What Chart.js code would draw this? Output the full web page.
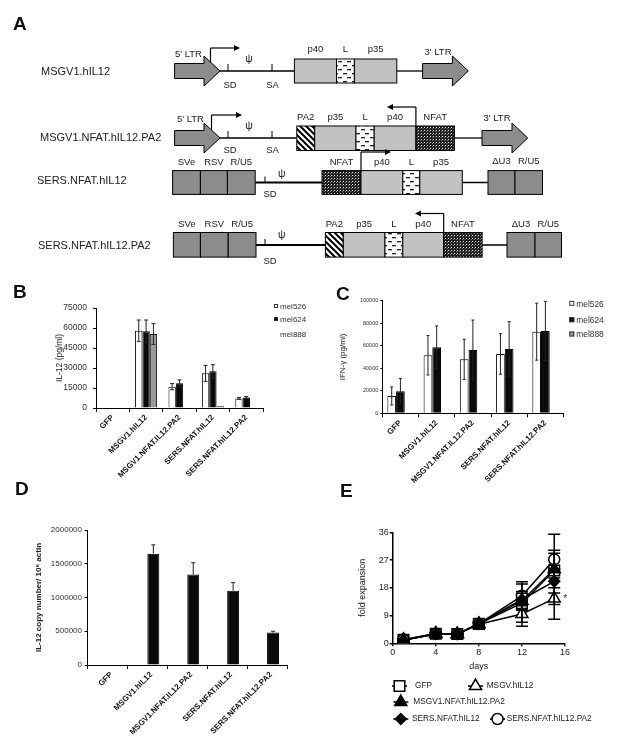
<!DOCTYPE html>
<html>
<head>
<meta charset="utf-8">
<script src="https://cdn.jsdelivr.net/npm/chart.js@4.4.1/dist/chart.umd.min.js"></script>
<style>
  body { margin: 0; background: #fff; }
  #page { position: relative; width: 619px; height: 750px; overflow: hidden; }
  canvas { position: absolute; }
</style>
</head>
<body>
<div id="page">
  <canvas id="bg" width="619" height="750" style="left:0;top:0"></canvas>
  <canvas id="chartB" width="310" height="215" style="left:0;top:290px"></canvas>
  <canvas id="chartC" width="309" height="215" style="left:310px;top:290px"></canvas>
  <canvas id="chartD" width="310" height="250" style="left:0;top:500px"></canvas>
  <canvas id="chartE" width="309" height="230" style="left:310px;top:520px"></canvas>
</div>
<script>
// ---- data ----
const categories = ['GFP', 'MSGV1.hIL12', 'MSGV1.NFAT.IL12.PA2', 'SERS.NFAT.hIL12', 'SERS.NFAT.hIL12.PA2'];
const cellLines = ['mel526', 'mel624', 'mel888'];

// B: IL-12 (pg/ml)
const il12Mel526 = [0, 58000, 16000, 26000, 7200];
const il12Mel624 = [0, 57500, 18600, 27500, 7900];
const il12Mel888 = [0, 55500, 300, 1300, 0];
const il12Mel526Err = [0, 8000, 2300, 6000, 700];
const il12Mel624Err = [0, 8500, 2500, 5000, 700];
const il12Mel888Err = [0, 7800, 0, 0, 0];
const il12Ticks = [0, 15000, 30000, 45000, 60000, 75000];

// C: IFN-gamma (pg/ml)
const ifnMel526 = [15400, 51500, 47900, 52700, 72500];
const ifnMel624 = [19500, 58600, 56200, 57100, 73100];
const ifnMel888 = [500, 800, 300, 300, 300];
const ifnMel526Err = [8000, 17500, 17800, 18000, 25300];
const ifnMel624Err = [11500, 19000, 26600, 24300, 26300];
const ifnTicks = [0, 20000, 40000, 60000, 80000, 100000];

// D: IL-12 copy number / 10^6 actin
const copyCtrl = [0, 0, 0, 0, 0];
const copyNumber = [0, 1650000, 1340000, 1100000, 480000];
const copyNumberErr = [0, 130000, 175000, 120000, 20000];
const copyTicks = [0, 500000, 1000000, 1500000, 2000000];

// E: fold expansion
const expansionSeries = ['GFP', 'MSGV.hIL12', 'MSGV1.NFAT.hIL12.PA2', 'SERS.NFAT.hIL12', 'SERS.NFAT.hIL12.PA2'];
const days = [1, 4, 6, 8, 12, 15];
const expGFP     = [1.1, 3.1, 3.0, 6.3, 13.0, 23.6];
const expMSGV    = [1.1, 3.0, 2.9, 6.2, 9.5, 14.5];
const expMSGVPA2 = [1.1, 3.2, 3.0, 6.3, 13.8, 24.0];
const expSERS    = [1.0, 3.0, 3.0, 6.4, 14.2, 20.1];
const expSERSPA2 = [1.2, 3.1, 3.0, 6.3, 15.4, 27.2];
const errGFP     = [0.3, 0.4, 0.4, 0.6, 6.2, 5.6];
const errMSGV    = [0.3, 0.4, 0.4, 0.6, 4.0, 6.7];
const errMSGVPA2 = [0.3, 0.4, 0.4, 0.6, 3.0, 11.4];
const errSERS    = [0.3, 0.4, 0.4, 0.6, 2.0, 3.8];
const errSERSPA2 = [0.3, 0.4, 0.4, 0.6, 4.6, 3.0];
const dayTicks = [0, 4, 8, 12, 16];
const foldTicks = [0, 9, 18, 27, 36];

// ---- defaults ----
const FONT = "'Liberation Sans', Arial, Helvetica, sans-serif";
Chart.defaults.font.family = FONT;
Chart.defaults.color = '#222';
Chart.defaults.animation = false;
Chart.defaults.plugins.legend.display = false;
Chart.defaults.plugins.tooltip.enabled = false;

const DARK = '#8c8c8c', LIGHT = '#c2c2c2';

// error bars drawn from the dataset's own errors array
const errorBarPlugin = {
  id: 'errorBars',
  afterDatasetsDraw(chart, args, opts) {
    const ctx = chart.ctx, ys = chart.scales.y;
    ctx.save();
    ctx.strokeStyle = opts.color || '#222';
    ctx.lineWidth = opts.lineWidth || 1;
    chart.data.datasets.forEach((ds, di) => {
      if (!ds.errors) return;
      chart.getDatasetMeta(di).data.forEach((el, i) => {
        const d = ds.data[i];
        const v = (d && typeof d === 'object') ? d.y : d;
        const e = ds.errors[i];
        if (v == null || !e) return;
        const x = el.x, cw = opts.capWidth / 2;
        const top = ys.getPixelForValue(v + e);
        const bot = opts.upOnly ? ys.getPixelForValue(v) : ys.getPixelForValue(Math.max(0, v - e));
        ctx.beginPath();
        ctx.moveTo(x, top); ctx.lineTo(x, bot);
        ctx.moveTo(x - cw, top); ctx.lineTo(x + cw, top);
        if (!opts.upOnly) { ctx.moveTo(x - cw, bot); ctx.lineTo(x + cw, bot); }
        ctx.stroke();
      });
    });
    ctx.restore();
  }
};

// small square legend for B and C
const boxLegendPlugin = {
  id: 'boxLegend',
  afterDraw(chart, args, opts) {
    if (!opts || !opts.ys) return;
    const ctx = chart.ctx;
    ctx.save();
    ctx.font = opts.size + 'px ' + FONT;
    ctx.textBaseline = 'middle';
    ctx.textAlign = 'left';
    chart.data.datasets.forEach((ds, i) => {
      const y = opts.ys[i];
      if (opts.boxes[i]) {
        ctx.fillStyle = ds.backgroundColor;
        ctx.strokeStyle = '#333';
        ctx.lineWidth = 1;
        ctx.fillRect(opts.x, y - opts.box / 2 - 1, opts.box, opts.box);
        ctx.strokeRect(opts.x + 0.5, y - opts.box / 2 - 0.5, opts.box - 1, opts.box - 1);
      }
      ctx.fillStyle = '#333';
      ctx.fillText(ds.label, opts.x + opts.box + 2, y);
    });
    ctx.restore();
  }
};

function barChart(id, cfg) {
  return new Chart(document.getElementById(id), {
    type: 'bar',
    data: { labels: categories, datasets: cfg.datasets },
    options: {
      responsive: false,
      layout: { padding: cfg.padding },
      scales: {
        x: {
          grid: { display: true, drawOnChartArea: false, tickLength: 4, color: '#000', lineWidth: 1 },
          border: { color: '#000', width: 1 },
          ticks: { autoSkip: false, minRotation: 45, maxRotation: 45, padding: 1, labelOffset: cfg.labelOffset || 0,
                   font: { size: 8, weight: 'bold' }, color: '#111' },
          afterFit: s => { s.height = cfg.xHeight; }
        },
        y: {
          min: 0, max: cfg.ticks[cfg.ticks.length - 1],
          afterBuildTicks: s => { s.ticks = cfg.ticks.map(v => ({ value: v })); },
          grid: { drawOnChartArea: false, tickLength: cfg.tickLen, color: '#000' },
          border: { color: '#000', width: 1 },
          ticks: { padding: cfg.tickPad, font: { size: cfg.tickSize }, color: '#333', callback: v => String(v) },
          title: { display: true, text: cfg.yTitle, color: '#222',
                   font: { size: cfg.titleSize, weight: cfg.titleWeight || 'normal' },
                   padding: { top: cfg.titlePad, bottom: 0 } },
          afterFit: s => { s.width = cfg.yWidth; }
        }
      },
      plugins: {
        errorBars: { capWidth: cfg.cap, upOnly: !!cfg.upOnly, color: '#222' },
        boxLegend: cfg.legend || {}
      }
    },
    plugins: [errorBarPlugin, boxLegendPlugin]
  });
}

function barSet(label, data, errors, fill, pct) {
  return { label, data, errors, backgroundColor: fill, borderColor: '#000', borderWidth: 1,
           categoryPercentage: pct, barPercentage: 1 };
}

// ---- B ----
barChart('chartB', {
  datasets: [
    barSet(cellLines[0], il12Mel526, il12Mel526Err, '#ffffff', 0.66),
    barSet(cellLines[1], il12Mel624, il12Mel624Err, '#0a0a0a', 0.66),
    barSet(cellLines[2], il12Mel888, il12Mel888Err, '#9a9a9a', 0.66)
  ],
  ticks: il12Ticks, yTitle: 'IL-12 (pg/ml)', titleSize: 8.5, titlePad: 54.9,
  padding: { left: 0, top: 18, right: 47, bottom: 0 }, yWidth: 96, xHeight: 97,
  tickLen: 3, tickPad: 6, tickSize: 8.5, cap: 4,
  legend: { x: 274, ys: [17, 30, 45], boxes: [true, true, false], box: 4, size: 8 }
});

// ---- C ----
barChart('chartC', {
  datasets: [
    barSet(cellLines[0], ifnMel526, ifnMel526Err, '#ffffff', 0.72),
    barSet(cellLines[1], ifnMel624, ifnMel624Err, '#0a0a0a', 0.72),
    barSet(cellLines[2], ifnMel888, null, '#999999', 0.72)
  ],
  ticks: ifnTicks, yTitle: 'IFN-\u03b3 (pg/ml)', titleSize: 8, titlePad: 28.2,
  padding: { left: 0, top: 10.7, right: 55.5, bottom: 0 }, yWidth: 72.3, xHeight: 91.7,
  tickLen: 2, tickPad: 2, tickSize: 5.5, cap: 3,
  legend: { x: 259.3, ys: [14.3, 30.7, 45], boxes: [true, true, true], box: 5, size: 8.4 }
});

// ---- D ----
barChart('chartD', {
  datasets: [
    barSet('control', copyCtrl, null, '#ffffff', 0.6),
    barSet('IL-12', copyNumber, copyNumberErr, '#0a0a0a', 0.6)
  ],
  ticks: copyTicks, yTitle: 'IL-12 copy number/ 10\u2076 actin', titleSize: 8, titleWeight: 'bold', titlePad: 34.2,
  padding: { left: 0, top: 30, right: 23, bottom: 0 }, yWidth: 87.5, xHeight: 85,
  tickLen: 3, tickPad: 2.5, tickSize: 8, cap: 4, upOnly: true, labelOffset: 4
});

// ---- E ----
const expValues = [expGFP, expMSGV, expMSGVPA2, expSERS, expSERSPA2];
const expErrors = [errGFP, errMSGV, errMSGVPA2, errSERS, errSERSPA2];
const markerStyles = ['rect', 'triangle', 'triangle', 'rectRot', 'circle'];
const markerFills = ['#ffffff', '#ffffff', '#000000', '#000000', '#ffffff'];
const markerRadius = [7.5, 7, 7, 5.5, 5.5];
const drawOrder = [5, 4, 2, 1, 3]; // filled markers end up on top

const lineLegendPlugin = {
  id: 'lineLegend',
  afterDraw(chart, args, opts) {
    const ctx = chart.ctx;
    ctx.save();
    ctx.font = '8.3px ' + FONT;
    ctx.textBaseline = 'middle';
    ctx.textAlign = 'left';
    opts.items.forEach((it, k) => {
      const ds = chart.data.datasets[k];
      ctx.strokeStyle = '#000';
      ctx.lineWidth = 1.5;
      ctx.beginPath(); ctx.moveTo(it[0] - 7.5, it[1]); ctx.lineTo(it[0] + 7.5, it[1]); ctx.stroke();
      ctx.fillStyle = ds.pointBackgroundColor;
      Chart.helpers.drawPoint(ctx, { pointStyle: ds.pointStyle, radius: ds.pointRadius, rotation: 0, borderWidth: 1.5 }, it[0], it[1]);
      ctx.fillStyle = '#222';
      ctx.fillText(ds.label, it[2], it[1]);
    });
    // significance mark next to last MSGV point
    const xs = chart.scales.x, ys = chart.scales.y;
    ctx.font = '10px ' + FONT;
    ctx.fillStyle = '#333';
    ctx.textAlign = 'center';
    ctx.fillText('*', xs.getPixelForValue(days[days.length - 1]) + 11, ys.getPixelForValue(expMSGV[expMSGV.length - 1]) + 1);
    ctx.restore();
  }
};

new Chart(document.getElementById('chartE'), {
  type: 'line',
  data: {
    datasets: expansionSeries.map((name, k) => ({
      label: name,
      data: days.map((d, i) => ({ x: d, y: expValues[k][i] })),
      errors: expErrors[k],
      order: drawOrder[k],
      borderColor: '#000', borderWidth: 1.5, tension: 0,
      pointStyle: markerStyles[k], pointRadius: markerRadius[k],
      pointBackgroundColor: markerFills[k], pointBorderColor: '#000', pointBorderWidth: 1.5
    }))
  },
  options: {
    responsive: false,
    layout: { padding: { left: 0, top: 12.3, right: 54, bottom: 76.7 } },
    scales: {
      x: {
        type: 'linear', min: 0, max: 16,
        afterBuildTicks: s => { s.ticks = dayTicks.map(v => ({ value: v })); },
        grid: { drawOnChartArea: false, tickLength: 3, color: '#000', lineWidth: 1.5 },
        border: { color: '#000', width: 1.5 },
        ticks: { padding: 1, font: { size: 9 }, color: '#222' },
        title: { display: true, text: 'days', font: { size: 9 }, color: '#222', padding: { top: 0, bottom: 1 } },
        afterFit: s => { s.height = 30; }
      },
      y: {
        min: 0, max: 36,
        afterBuildTicks: s => { s.ticks = foldTicks.map(v => ({ value: v })); },
        grid: { drawOnChartArea: false, tickLength: 3, color: '#000', lineWidth: 1.5 },
        border: { color: '#000', width: 1.5 },
        ticks: { padding: 1, font: { size: 9 }, color: '#222' },
        title: { display: true, text: 'fold expansion', font: { size: 9 }, color: '#222', padding: { top: 47.6, bottom: 0 } },
        afterFit: s => { s.width = 82.7; }
      }
    },
    plugins: {
      errorBars: { capWidth: 12, color: '#000', lineWidth: 1.5 },
      lineLegend: { items: [[89.5, 166, 105], [165.5, 166, 176.7], [90.8, 182, 103.3], [90.8, 199, 102], [187.5, 199, 196.7]] }
    }
  },
  plugins: [errorBarPlugin, lineLegendPlugin]
});

// ---- A: vector maps + panel letters ----
const constructNames = ['MSGV1.hIL12', 'MSGV1.NFAT.hIL12.PA2', 'SERS.NFAT.hIL12', 'SERS.NFAT.hIL12.PA2'];

function pattern(ctx, w, h, draw) {
  const c = document.createElement('canvas');
  c.width = w; c.height = h;
  draw(c.getContext('2d'));
  return ctx.createPattern(c, 'repeat');
}

const mapPlugin = {
  id: 'constructMap',
  afterDraw(chart) {
    const ctx = chart.ctx;
    const patL = pattern(ctx, 9, 8, g => {
      g.fillStyle = '#fff'; g.fillRect(0, 0, 9, 8);
      g.fillStyle = '#222'; g.fillRect(1, 1, 4, 1.3); g.fillRect(5, 5, 4, 1.3);
    });
    const patN = pattern(ctx, 3, 3, g => {
      g.fillStyle = '#1e1e1e'; g.fillRect(0, 0, 3, 3);
      g.fillStyle = '#e8e8e8'; g.fillRect(1, 1, 1, 1);
      g.fillStyle = '#777'; g.fillRect(0, 2, 1, 1);
    });
    const patP = pattern(ctx, 6, 6, g => {
      g.fillStyle = '#fff'; g.fillRect(0, 0, 6, 6);
      g.strokeStyle = '#000'; g.lineWidth = 2;
      g.beginPath(); g.moveTo(-1, -1); g.lineTo(7, 7); g.moveTo(-4, 2); g.lineTo(4, 10); g.moveTo(2, -4); g.lineTo(10, 4); g.stroke();
    });
    const fills = { L: patL, N: patN, P: patP, g: LIGHT, d: DARK };

    function text(s, x, y, size, align, weight) {
      ctx.font = (weight || 'normal') + ' ' + size + 'px ' + FONT;
      ctx.textAlign = align || 'center';
      ctx.textBaseline = 'middle';
      ctx.fillStyle = '#222';
      ctx.fillText(s, x, y);
    }
    function line(x0, y0, x1, y1, w) {
      ctx.strokeStyle = '#000'; ctx.lineWidth = w || 1.3;
      ctx.beginPath(); ctx.moveTo(x0, y0); ctx.lineTo(x1, y1); ctx.stroke();
    }
    function box(x0, x1, y0, y1, f) {
      ctx.fillStyle = fills[f];
      ctx.fillRect(x0, y0, x1 - x0, y1 - y0);
      ctx.strokeStyle = '#000'; ctx.lineWidth = 1;
      ctx.strokeRect(x0, y0, x1 - x0, y1 - y0);
    }
    function ltr(x0, xn, x1, yc) {
      ctx.beginPath();
      ctx.moveTo(x0, yc - 7.5); ctx.lineTo(xn, yc - 7.5); ctx.lineTo(xn, yc - 15); ctx.lineTo(x1, yc);
      ctx.lineTo(xn, yc + 15); ctx.lineTo(xn, yc + 7.5); ctx.lineTo(x0, yc + 7.5); ctx.closePath();
      ctx.fillStyle = DARK; ctx.fill();
      ctx.strokeStyle = '#000'; ctx.lineWidth = 1; ctx.stroke();
    }
    function promoter(x, y0, y1, xe) {
      line(x, y0, x, y1, 1.2); line(x, y1, xe, y1, 1.2);
      const dir = Math.sign(xe - x);
      ctx.fillStyle = '#000';
      ctx.beginPath(); ctx.moveTo(xe + dir * 2, y1); ctx.lineTo(xe - dir * 4, y1 - 3); ctx.lineTo(xe - dir * 4, y1 + 3); ctx.closePath(); ctx.fill();
    }
    function segments(list, y0, y1, ly) {
      list.forEach(s => {
        box(s[1], s[2], y0, y1, s[3]);
        if (s[0]) text(s[0], (s[1] + s[2]) / 2, ly, 9.5);
      });
    }

    // row 1
    let yc = 71;
    text(constructNames[0], 41, 72, 11, 'left');
    line(220, yc, 294.4, yc); line(396.8, yc, 423, yc);
    ltr(174.6, 204, 220, yc); ltr(422.6, 452.4, 468.3, yc);
    text("5' LTR", 175, 54, 9.5, 'left'); text("3' LTR", 438, 52, 9.5);
    promoter(210.5, yc - 8, yc - 23, 238);
    line(228, yc - 7, 228, yc, 1); line(272, yc - 7, 272, yc, 1);
    text('SD', 230, 85.3, 9.5); text('SA', 272.6, 85.3, 9.5); text('\u03c8', 249, 59.5, 10.5);
    segments([['p40', 294.4, 336.5, 'g'], ['L', 336.5, 354.4, 'L'], ['p35', 354.4, 396.8, 'g']], 59, 83, 49.6);

    // row 2
    yc = 138;
    text(constructNames[1], 40, 138, 11, 'left');
    line(220, yc, 296.8, yc); line(454.4, yc, 482.5, yc);
    ltr(174.6, 204, 220, yc); ltr(482, 512, 527.8, yc);
    text("5' LTR", 177, 119, 9.5, 'left'); text("3' LTR", 497, 118, 9.5);
    promoter(211.5, yc - 8, yc - 23, 240);
    line(228, yc - 7, 228, yc, 1); line(272, yc - 7, 272, yc, 1);
    text('SD', 230, 150.5, 9.5); text('SA', 272.6, 150.5, 9.5); text('\u03c8', 249, 126, 10.5);
    segments([['PA2', 296.8, 314.7, 'P'], ['p35', 314.7, 356, 'g'], ['L', 356, 374.2, 'L'],
              ['p40', 374.2, 415.9, 'g'], ['NFAT', 415.9, 454.4, 'N']], 126, 150.5, 117);
    promoter(415.9, 126, 107, 389);

    // row 3
    yc = 182.5;
    text(constructNames[2], 37, 181, 11, 'left');
    line(255.2, yc, 322, yc, 2); line(462.3, yc, 488, yc, 1.5);
    segments([['SVe', 172.6, 200.4, 'd'], ['RSV', 200.4, 227.4, 'd'], ['R/U5', 227.4, 255.2, 'd']], 170.6, 194.4, 162);
    line(265, yc - 6, 265, yc, 1);
    text('SD', 270, 194.5, 9.5); text('\u03c8', 281.7, 174.6, 10.5);
    segments([['NFAT', 322, 361, 'N'], ['p40', 361, 402.8, 'g'], ['L', 402.8, 419.8, 'L'], ['p35', 419.8, 462.3, 'g']], 170.6, 194.4, 162);
    promoter(361, 170.6, 152, 389);
    segments([['\u0394U3', 488, 515, 'd'], ['R/U5', 515, 542.5, 'd']], 170.6, 194.4, 161);

    // row 4
    yc = 245;
    text(constructNames[3], 38, 245.5, 11, 'left');
    line(256, yc, 325.4, yc, 2); line(482.1, yc, 507, yc, 1.5);
    segments([['SVe', 173.4, 200.4, 'd'], ['RSV', 200.4, 228.2, 'd'], ['R/U5', 228.2, 256, 'd']], 232.5, 257.1, 224.2);
    line(265, yc - 6, 265, yc, 1);
    text('SD', 270, 261, 9.5); text('\u03c8', 281.7, 235.3, 10.5);
    segments([['PA2', 325.4, 343.3, 'P'], ['p35', 343.3, 385, 'g'], ['L', 385, 402.8, 'L'],
              ['p40', 402.8, 443.7, 'g'], ['NFAT', 443.7, 482.1, 'N']], 232.5, 257.1, 224.2);
    promoter(443.7, 232.5, 213.5, 417);
    segments([['\u0394U3', 507, 535, 'd'], ['R/U5', 535, 561.5, 'd']], 232.5, 257.1, 224.2);

    // panel letters
    ctx.font = 'bold 19px ' + FONT;
    ctx.textAlign = 'left';
    ctx.textBaseline = 'alphabetic';
    ctx.fillStyle = '#111';
    [['A', 13, 30], ['B', 13, 298], ['C', 336, 300], ['D', 15, 495], ['E', 340, 497]].forEach(l => ctx.fillText(l[0], l[1], l[2]));
  }
};

new Chart(document.getElementById('bg'), {
  type: 'scatter',
  data: { datasets: [] },
  options: { responsive: false, scales: { x: { display: false }, y: { display: false } } },
  plugins: [mapPlugin]
});
</script>
</body>
</html>
